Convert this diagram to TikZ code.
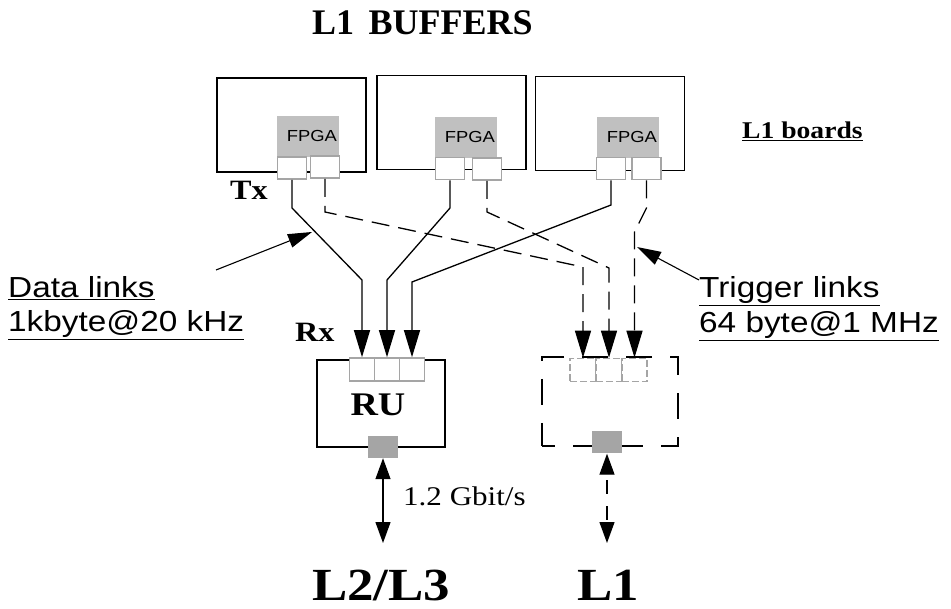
\documentclass[tikz,border=0pt]{standalone}
\usepackage{fontspec}
\newfontfamily\tnr[FakeStretch=1.15]{Liberation Serif}
\newfontfamily\tnrn{Liberation Serif}
\newfontfamily\hel[FakeStretch=1.15]{Liberation Sans}
\usetikzlibrary{arrows.meta}
\definecolor{fpgagray}{RGB}{192,192,192}
\definecolor{sqgray}{RGB}{165,165,165}
\definecolor{portgray}{RGB}{165,165,165}
\tikzset{
  board/.style={draw, line width=1.8pt, minimum width=149pt, minimum height=94pt, inner sep=0pt},
  fpga/.style={fill=fpgagray, minimum width=62pt, minimum height=41pt, inner sep=0pt},
  fpgatext/.style={font=\hel\fontsize{16}{18}\selectfont, inner sep=0pt, anchor=east},
  txport/.style={draw=portgray, line width=1.6pt, fill=white, minimum width=29pt, minimum height=22pt, inner sep=0pt},
  rxport/.style={draw=portgray, line width=1.6pt, fill=white, minimum width=25pt, minimum height=23pt, inner sep=0pt},
  rxdport/.style={draw=portgray, line width=1.6pt, fill=white, dash pattern=on 7pt off 3pt, minimum width=25.5pt, minimum height=23pt, inner sep=0pt},
  sq/.style={fill=sqgray, minimum width=30pt, minimum height=22pt, inner sep=0pt},
  lbl/.style={inner sep=0pt, anchor=base west},
  dlink/.style={line width=1.3pt, -{Triangle[length=27pt,width=16pt]}},
  tlink/.style={line width=1.3pt, dash pattern=on 18pt off 9pt, -{Triangle[length=27pt,width=16pt]}},
  pointer/.style={line width=1.1pt, -{Triangle[length=24pt,width=14pt]}},
  dbl/.style={line width=1.3pt, {Triangle[length=21pt,width=15pt]}-{Triangle[length=21pt,width=15pt]}},
}
\begin{document}
\begin{tikzpicture}[x=1pt,y=-1pt]
\useasboundingbox[fill=white] (0,0) rectangle (951,609);

% title
\node[lbl, font=\tnrn\bfseries\fontsize{36}{40}\selectfont] (title) at (312,35) {L1\hspace{0.4em}BUFFERS};

% boards
\node[board] (b1) at (291.5,125) {};
\node[board] (b2) at (451.5,122.5) {};
\node[board] (b3) at (610,123.5) {};
\node[fpga] (f1) at (308,136.5) {};
\node[fpga] (f2) at (466,137.5) {};
\node[fpga] (f3) at (628,138) {};
\node[fpgatext] (ft1) at ([xshift=-2pt,yshift=1pt]f1.east) {FPGA};
\node[fpgatext] (ft2) at ([xshift=-2pt,yshift=1pt]f2.east) {FPGA};
\node[fpgatext] (ft3) at ([xshift=-2pt,yshift=1pt]f3.east) {FPGA};
\node[txport] (p11) at (292,168) {};
\node[txport] (p12) at (325,167) {};
\node[txport] (p21) at (450,168.5) {};
\node[txport] (p22) at (487,169) {};
\node[txport] (p31) at (611,168.5) {};
\node[txport] (p32) at (646.5,168.5) {};

\node[lbl, font=\tnr\bfseries\fontsize{24}{28}\selectfont] (l1b) at (742,139) {\underline{L1 boards}};
\node[lbl, font=\tnr\bfseries\fontsize{28}{32}\selectfont] (tx) at (230,200) {Tx};
\node[lbl, font=\tnr\bfseries\fontsize{28}{32}\selectfont] (rx) at (295,342) {Rx};

% RU
\node[draw, line width=1.5pt, minimum width=128pt, minimum height=87pt, inner sep=0pt] (ru) at (381,403.5) {};
\node[rxport] (r1) at (362,369.5) {};
\node[rxport] (r2) at (387,369.5) {};
\node[rxport] (r3) at (412,369.5) {};
\node[font=\tnr\bfseries\fontsize{33}{36}\selectfont, inner sep=0pt] (rulbl) at (378,405) {RU};
\node[sq] (sq1) at (383,447) {};

% L1 trigger box
\node[draw, line width=1.5pt, dash pattern=on 26pt off 18pt, dash phase=13pt, minimum width=136pt, minimum height=89pt, inner sep=0pt] (tb) at (610,401.5) {};
\node[rxdport] (t1) at (583,370) {};
\node[rxdport] (t2) at (609,370) {};
\node[rxdport] (t3) at (634.5,370) {};
\node[sq] (sq2) at (607,442.5) {};

% data links
\draw[dlink] (p11.south) -- (292,208) -- (362,280) -- (r1.north);
\draw[dlink] (p21.south) -- (450,208) -- (387,280) -- (r2.north);
\draw[dlink] (p31.south) -- (611,205) -- (412,282) -- (r3.north);

% trigger links
\draw[tlink] (p12.south) -- (325,212) -- (583,267) -- (t1.north);
\draw[tlink] (p22.south) -- (487,212) -- (609,268) -- (t2.north);
\draw[tlink] (p32.south) -- (646.5,208) -- (634.5,232) -- (t3.north);

% labels with pointers
\node[lbl, font=\hel\fontsize{29}{32}\selectfont] (dl1) at (8,298) {\underline{Data links}};
\node[lbl, font=\hel\fontsize{29}{32}\selectfont] (dl2) at (8,332) {\underline{1kbyte@20 kHz}};
\coordinate (dtail) at (216,270);
\coordinate (dtip) at (312,232);
\draw[pointer] (dtail) -- (dtip);

\node[lbl, font=\hel\fontsize{29}{32}\selectfont] (tl1) at (699,298) {\underline{Trigger links}};
\node[lbl, font=\hel\fontsize{29}{32}\selectfont] (tl2) at (699,333) {\underline{64 byte@1 MHz}};
\coordinate (ttail) at (699,280);
\coordinate (ttip) at (637,247);
\draw[pointer] (ttail) -- (ttip);

% outputs
\coordinate (o1) at (383,543);
\coordinate (o2) at (607,543);
\draw[dbl] (sq1.south) -- (o1);
\draw[dbl, dash pattern=on 14pt off 12pt, dash phase=-6pt] (sq2.south) -- (o2);
\node[lbl, font=\tnr\fontsize{27}{30}\selectfont] (gbit) at (403,505) {1.2 Gbit/s};
\node[lbl, font=\tnr\bfseries\fontsize{46}{50}\selectfont] (l23) at (312,600) {L2/L3};
\node[lbl, font=\tnr\bfseries\fontsize{46}{50}\selectfont] (l1) at (577,600) {L1};
\end{tikzpicture}
\end{document}
